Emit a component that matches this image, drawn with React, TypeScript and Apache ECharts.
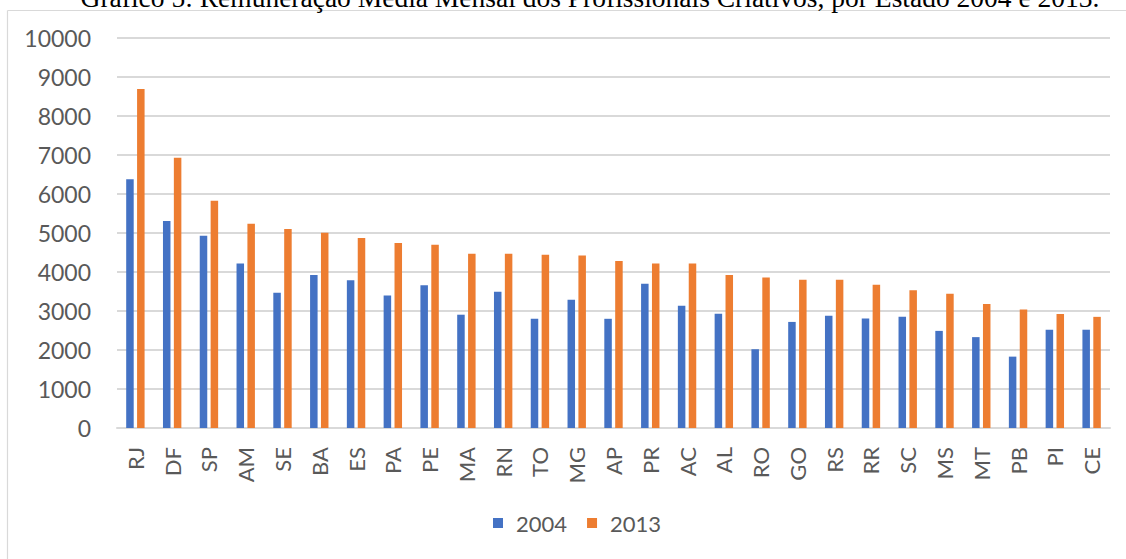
import React, { useEffect, useRef } from "react";
import * as echarts from "echarts";

const titleText =
  "Gráfico 5: Remuneração Média Mensal dos Profissionais Criativos, por Estado 2004 e 2013.";

const states = [
  "RJ", "DF", "SP", "AM", "SE", "BA", "ES", "PA", "PE", "MA", "RN", "TO", "MG", "AP",
  "PR", "AC", "AL", "RO", "GO", "RS", "RR", "SC", "MS", "MT", "PB", "PI", "CE",
];

const values2004 = [
  6380, 5310, 4930, 4215, 3465, 3925, 3790, 3395, 3660, 2905, 3495, 2800, 3290, 2800,
  3700, 3135, 2930, 2020, 2720, 2880, 2810, 2850, 2490, 2330, 1830, 2520, 2520,
];

const values2013 = [
  8690, 6930, 5825, 5240, 5100, 5005, 4870, 4745, 4700, 4470, 4470, 4445, 4420, 4280,
  4215, 4215, 3920, 3860, 3800, 3800, 3670, 3530, 3440, 3180, 3040, 2920, 2850,
];

const seriesNames = ["2004", "2013"];
const colors = ["#4472C4", "#ED7D31"];

const FONT = "Lato";
const TEXT_COLOR = "#595959";

export default function App() {
  const ref = useRef<HTMLDivElement>(null);

  useEffect(() => {
    if (!ref.current) return;
    const chart = echarts.init(ref.current, null, { renderer: "svg" });
    chart.setOption({
      animation: false,
      backgroundColor: "#ffffff",
      textStyle: { fontFamily: FONT },
      graphic: [
        {
          type: "line",
          shape: { x1: 7.5, y1: 10.5, x2: 1126, y2: 10.5 },
          style: { stroke: "#d9d9d9", lineWidth: 1.2 },
          silent: true,
        },
        {
          type: "line",
          shape: { x1: 7.5, y1: 10.5, x2: 7.5, y2: 559 },
          style: { stroke: "#d9d9d9", lineWidth: 1.2 },
          silent: true,
        },
        {
          type: "text",
          x: 590,
          y: -17,
          style: {
            text: titleText,
            fontFamily: "Liberation Serif",
            fontSize: 27.5,
            fill: "#000000",
            textAlign: "center",
            textVerticalAlign: "top",
          },
          silent: true,
        },
      ],
      legend: {
        top: 507,
        left: 488,
        itemWidth: 10,
        itemHeight: 10,
        itemGap: 20,
        icon: "rect",
        textStyle: { fontFamily: FONT, fontSize: 22, color: TEXT_COLOR, padding: [0, 0, 0, 8] },
        data: seriesNames,
      },
      grid: {
        left: 117,
        right: 16,
        top: 38,
        bottom: 131,
        containLabel: false,
      },
      xAxis: {
        type: "category",
        data: states,
        axisLine: { show: true, lineStyle: { color: "#d9d9d9", width: 2 } },
        axisTick: { show: false },
        axisLabel: {
          rotate: 90,
          interval: 0,
          margin: 19,
          fontFamily: FONT,
          fontSize: 22,
          color: TEXT_COLOR,
        },
      },
      yAxis: {
        type: "value",
        min: 0,
        max: 10000,
        interval: 1000,
        axisLine: { show: false },
        axisTick: { show: false },
        axisLabel: {
          margin: 26,
          fontFamily: FONT,
          fontSize: 23,
          color: TEXT_COLOR,
          formatter: (v: number) => String(v),
        },
        splitLine: { lineStyle: { color: "#d9d9d9", width: 2 } },
      },
      series: [
        {
          name: seriesNames[0],
          type: "bar",
          data: values2004,
          itemStyle: { color: colors[0] },
          barGap: "45%",
          barCategoryGap: "50%",
        },
        {
          name: seriesNames[1],
          type: "bar",
          data: values2013,
          itemStyle: { color: colors[1] },
          barGap: "45%",
          barCategoryGap: "50%",
        },
      ],
    });
    return () => chart.dispose();
  }, []);

  return (
    <div
      ref={ref}
      style={{ position: "fixed", left: 0, top: 0, width: 1126, height: 559 }}
    />
  );
}
